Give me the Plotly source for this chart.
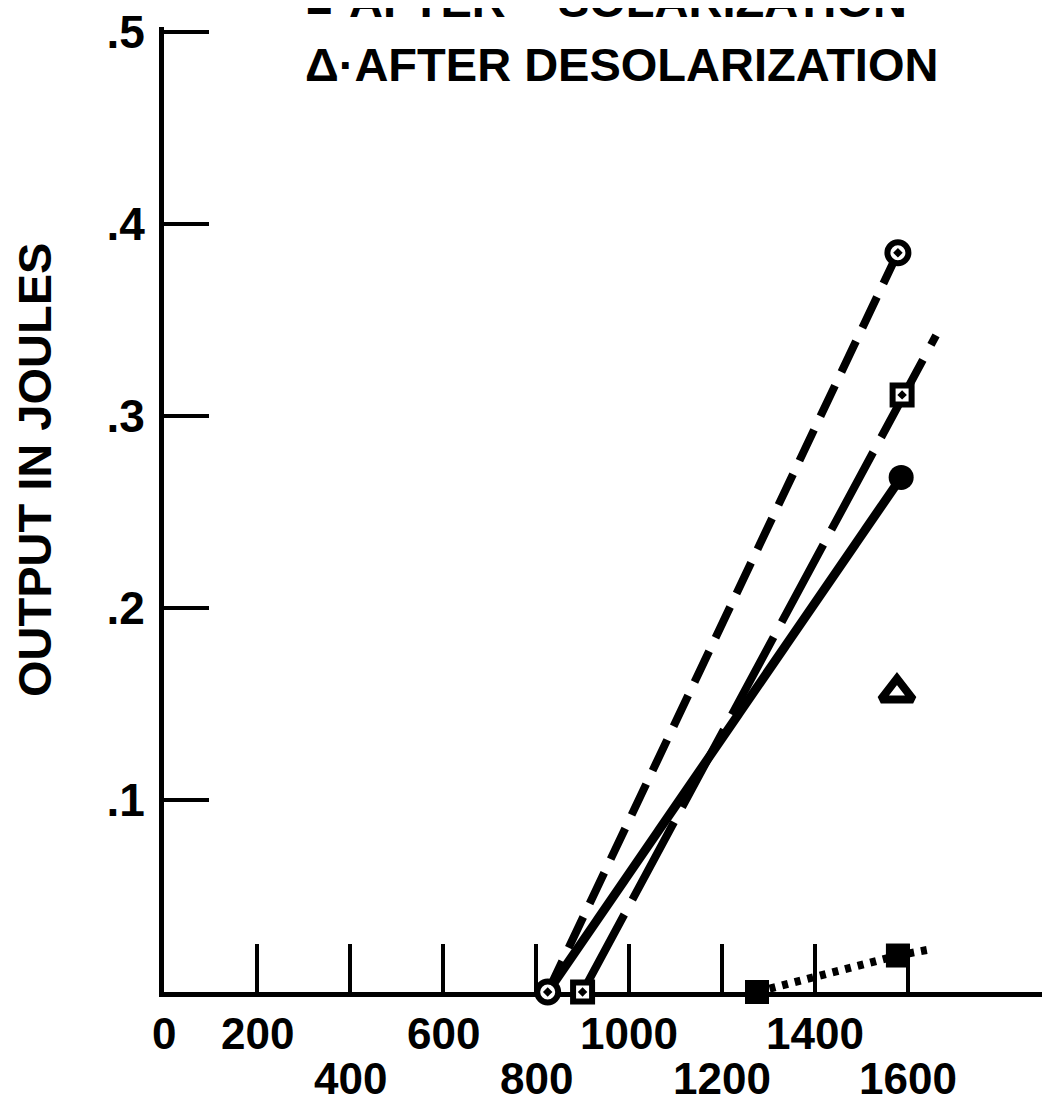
import plotly.graph_objects as go

# ---- data ----
circ_dot_x = [825, 1578]
circ_dot_y = [0.0, 0.385]

sq_dot_x = [900, 1587]
sq_dot_y = [0.0, 0.311]
sq_dot_line_x = [900, 1660]
sq_dot_line_y = [0.0, 0.342]

fill_circ_x = [825, 1585]
fill_circ_y = [0.0, 0.268]

tri_x = [1576]
tri_y = [0.156]

fill_sq_x = [1275, 1578]
fill_sq_y = [0.0, 0.019]
fill_sq_line_x = [1275, 1578, 1643]
fill_sq_line_y = [0.0, 0.019, 0.022]

x_tick_vals = [200, 400, 600, 800, 1000, 1200, 1400, 1600]
x_labels_top = [0, 200, 600, 1000, 1400]
x_labels_bottom = [400, 800, 1200, 1600]
y_tick_vals = [0.1, 0.2, 0.3, 0.4, 0.5]
y_tick_text = [".1", ".2", ".3", ".4", ".5"]

legend_line1 = "■-AFTER\u00a0\u00a0\u00a0\u00a0SOLARIZATION"
legend_line2 = "Δ·AFTER DESOLARIZATION"
y_title = "OUTPUT IN JOULES"

TXT = "Liberation Sans, Arial, sans-serif"

# the page body has an 8px default margin, so the figure is 8px smaller
W, H = 1042, 1096
Y_TOP = 0.5026  # a hair above .5 so the inside tick at .5 is drawn
T_MARGIN = 19
PLOT_H = H - T_MARGIN - 112

fig = go.Figure()

# lines
fig.add_trace(go.Scatter(x=circ_dot_x, y=circ_dot_y, mode="lines",
                         line=dict(color="black", width=8, dash="34px,15px"),
                         cliponaxis=False, showlegend=False))
fig.add_trace(go.Scatter(x=sq_dot_line_x, y=sq_dot_line_y, mode="lines",
                         line=dict(color="black", width=8, dash="88px,17px"),
                         cliponaxis=False, showlegend=False))
fig.add_trace(go.Scatter(x=fill_circ_x, y=fill_circ_y, mode="lines",
                         line=dict(color="black", width=9),
                         cliponaxis=False, showlegend=False))
fig.add_trace(go.Scatter(x=fill_sq_line_x, y=fill_sq_line_y, mode="lines",
                         line=dict(color="black", width=8, dash="6px,7px"),
                         cliponaxis=False, showlegend=False))

# markers
fig.add_trace(go.Scatter(x=fill_circ_x[1:], y=fill_circ_y[1:], mode="markers",
                         marker=dict(symbol="circle", size=25, color="black"),
                         cliponaxis=False, showlegend=False))
fig.add_trace(go.Scatter(x=fill_sq_x, y=fill_sq_y, mode="markers",
                         marker=dict(symbol="square", size=24, color="black"),
                         cliponaxis=False, showlegend=False))
fig.add_trace(go.Scatter(x=circ_dot_x, y=circ_dot_y, mode="markers",
                         marker=dict(symbol="circle-dot", size=21, color="white",
                                     line=dict(color="black", width=6)),
                         cliponaxis=False, showlegend=False))
fig.add_trace(go.Scatter(x=sq_dot_x, y=sq_dot_y, mode="markers",
                         marker=dict(symbol="square-dot", size=19, color="white",
                                     line=dict(color="black", width=6)),
                         cliponaxis=False, showlegend=False))
fig.add_trace(go.Scatter(x=tri_x, y=tri_y, mode="markers",
                         marker=dict(symbol="triangle-up", size=28, color="white",
                                     line=dict(color="black", width=8)),
                         cliponaxis=False, showlegend=False))


def py(window_px):
    """window pixel row -> paper y (plot bottom at window row 992)"""
    return (992 - window_px) / PLOT_H


def px(window_px):
    return (window_px - 164) / 886


NUMFONT = dict(family=TXT, size=44, color="black", weight="bold")
ann = []
for v in x_labels_top:
    ann.append(dict(x=v, y=py(1033), xref="x", yref="paper", text=str(v),
                    showarrow=False, xanchor="center", yanchor="middle", font=NUMFONT))
for v in x_labels_bottom:
    ann.append(dict(x=v, y=py(1078), xref="x", yref="paper", text=str(v),
                    showarrow=False, xanchor="center", yanchor="middle", font=NUMFONT))
ann.append(dict(x=px(303), y=py(0), xref="paper", yref="paper",
                text=legend_line1, showarrow=False, xanchor="left", yanchor="middle",
                font=dict(family=TXT, size=47, color="black", weight="bold")))
ann.append(dict(x=px(303), y=py(64), xref="paper", yref="paper",
                text=legend_line2, showarrow=False, xanchor="left", yanchor="middle",
                font=dict(family=TXT, size=47, color="black", weight="bold")))
ann.append(dict(x=px(34), y=py(470), xref="paper", yref="paper",
                text=y_title, showarrow=False, textangle=-90,
                xanchor="center", yanchor="middle",
                font=dict(family=TXT, size=47, color="black", weight="bold")))

fig.update_layout(
    width=W, height=H,
    margin=dict(l=156, r=0, t=T_MARGIN, b=112, autoexpand=False),
    paper_bgcolor="white", plot_bgcolor="white",
    showlegend=False,
    annotations=ann,
    xaxis=dict(range=[0, 1905], showline=True, linecolor="black", linewidth=5,
               ticks="inside", ticklen=48, tickwidth=4, tickcolor="black",
               tickvals=x_tick_vals, showticklabels=False,
               showgrid=False, zeroline=False, layer="below traces"),
    yaxis=dict(range=[0, Y_TOP], showline=True, linecolor="black", linewidth=5,
               ticks="inside", ticklen=45, tickwidth=4, tickcolor="black",
               tickvals=y_tick_vals, ticktext=y_tick_text,
               tickfont=dict(family=TXT, size=46, color="black", weight="bold"),
               ticklabelstandoff=5, ticklabeloverflow="allow",
               showgrid=False, zeroline=False, layer="below traces"),
)

fig.write_html("out.html")
